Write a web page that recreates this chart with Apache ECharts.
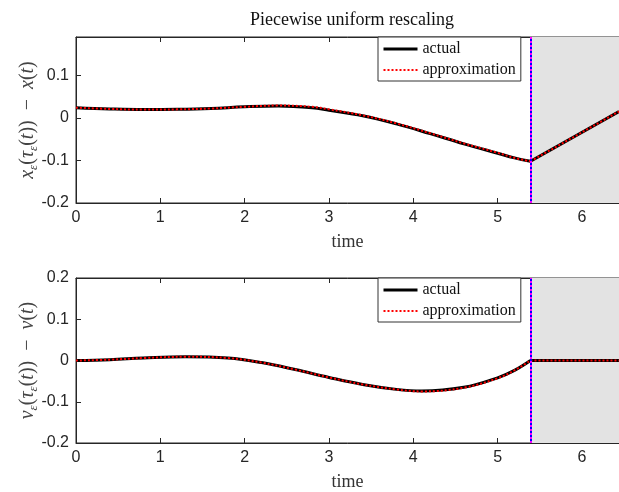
<!DOCTYPE html>
<html><head><meta charset="utf-8">
<script src="https://cdn.jsdelivr.net/npm/echarts@6/dist/echarts.min.js"></script>
<style>html,body{margin:0;padding:0;background:#fff}#c{width:619px;height:492px}</style>
</head><body><div id="c"></div>
<script>
// ---- data ----
const titleText = 'Piecewise uniform rescaling';
const xTicks = [0, 1, 2, 3, 4, 5, 6];
const tSwitch = 5.39;
const tEnd = 6.44;
// top panel: x_eps(tau_eps(t)) - x(t)
const tTop = [0, 0.4, 0.8, 1.2, 1.6, 2.0, 2.4, 2.8, 3.0, 3.4, 3.8, 4.2, 4.6, 5.0, 5.2, 5.39];
const xActual = [0.024, 0.021, 0.0195, 0.020, 0.022, 0.026, 0.028, 0.024, 0.018, 0.005, -0.014, -0.037, -0.061, -0.083, -0.094, -0.102];
const xApprox = [0.024, 0.021, 0.0195, 0.020, 0.022, 0.026, 0.029, 0.026, 0.020, 0.006, -0.013, -0.036, -0.060, -0.082, -0.094, -0.102];
const tTopPost = [5.39, 6.44];
const xActualPost = [-0.102, 0.015];
const xApproxPost = [-0.102, 0.015];
// bottom panel: v_eps(tau_eps(t)) - v(t)
const tBot = [0, 0.4, 0.8, 1.3, 1.8, 2.2, 2.6, 3.0, 3.4, 3.8, 4.1, 4.6, 5.0, 5.2, 5.39];
const vActual = [0, 0.002, 0.006, 0.009, 0.006, -0.005, -0.022, -0.041, -0.058, -0.070, -0.074, -0.065, -0.042, -0.024, 0];
const vApprox = [0, 0.002, 0.006, 0.009, 0.006, -0.005, -0.022, -0.041, -0.058, -0.070, -0.075, -0.066, -0.043, -0.024, 0];
const tBotPost = [5.39, 6.44];
const vActualPost = [0, 0];
const vApproxPost = [0, 0];
const legendNames = ['actual', 'approximation'];

// ---- chart ----
const zip = (a, b) => a.map((v, i) => [v, b[i]]);
const axisColor = '#262626';
const serif = 'Liberation Serif';
const sans = 'Liberation Sans';

function xAx(gi, showLabels) {
  return {
    type: 'value', gridIndex: gi, min: 0, max: tEnd, interval: 1,
    position: showLabels ? 'bottom' : 'top',
    name: showLabels ? 'time' : '', nameLocation: 'middle', nameGap: 30,
    nameTextStyle: { fontFamily: serif, fontSize: 18, color: '#333' },
    axisLine: { show: true, onZero: false, lineStyle: { color: axisColor } },
    axisTick: { show: true, inside: true, length: 5, lineStyle: { color: axisColor } },
    axisLabel: { show: showLabels, showMaxLabel: false, fontFamily: sans, fontSize: 16, color: axisColor, margin: 7 },
    splitLine: { show: false }
  };
}
function yAx(gi, min, max, nameStr) {
  return {
    type: 'value', gridIndex: gi, min: min, max: max, interval: 0.1,
    name: nameStr, nameLocation: 'middle', nameGap: 36, nameMoveOverlap: false,
    nameTextStyle: {
      color: '#444', fontFamily: serif, fontSize: 20,
      rich: {
        i: { fontFamily: serif, fontStyle: 'italic', fontSize: 20, color: '#444', lineHeight: 24, verticalAlign: 'middle' },
        n: { fontFamily: serif, fontSize: 20, color: '#444', lineHeight: 24, verticalAlign: 'middle' },
        s: { fontFamily: serif, fontStyle: 'italic', fontSize: 13, color: '#444', lineHeight: 24, verticalAlign: 'bottom' }
      }
    },
    axisLine: { show: true, onZero: false, lineStyle: { color: axisColor } },
    axisTick: { show: true, inside: true, length: 5, lineStyle: { color: axisColor } },
    axisLabel: { showMaxLabel: max > 0.195, fontFamily: sans, fontSize: 16, color: axisColor, margin: 7,
      formatter: v => (Math.abs(v) < 1e-9 ? '0' : String(Math.round(v * 10) / 10)) },
    splitLine: { show: false }
  };
}
const xName = '{i|x}{s|ε}{n|(}{i|τ}{s|ε}{n|(}{i|t}{n|))  −  }{i|x}{n|(}{i|t}{n|)}';
const vName = '{i|v}{s|ε}{n|(}{i|τ}{s|ε}{n|(}{i|t}{n|))  −  }{i|v}{n|(}{i|t}{n|)}';

function panelSeries(xi, yi, tPre, aPre, pPre, tPost, aPost, pPost) {
  const act = { type: 'line', smooth: 0.4, showSymbol: false, symbol: 'none', color: '#000', lineStyle: { color: '#000', width: 3 } };
  const app = { type: 'line', smooth: 0.4, showSymbol: false, symbol: 'none', color: '#ff0000', lineStyle: { color: '#ff0000', width: 2, type: [2, 2] } };
  return [
    Object.assign({}, act, { name: 'actual', xAxisIndex: xi, yAxisIndex: yi, z: 3, data: zip(tPre, aPre),
      markArea: { silent: true, itemStyle: { color: '#e3e3e3' }, data: [[{ xAxis: tSwitch }, { xAxis: tEnd }]] },
      markLine: { silent: true, symbol: 'none', label: { show: false }, lineStyle: { color: '#0000ff', width: 2, type: 'solid' }, data: [{ xAxis: tSwitch }] } }),
    Object.assign({}, act, { name: 'actual', xAxisIndex: xi, yAxisIndex: yi, z: 3, smooth: false, data: zip(tPost, aPost) }),
    Object.assign({}, app, { name: 'approximation', xAxisIndex: xi, yAxisIndex: yi, z: 4, data: zip(tPre, pPre),
      markLine: { silent: true, symbol: 'none', label: { show: false }, lineStyle: { color: '#ff00ff', width: 2, type: [2, 2] }, data: [{ xAxis: tSwitch }] } }),
    Object.assign({}, app, { name: 'approximation', xAxisIndex: xi, yAxisIndex: yi, z: 4, smooth: false, data: zip(tPost, pPost) })
  ];
}

function legendAt(id, top) {
  return {
    id: id, show: true,
    data: [
      { name: legendNames[0], lineStyle: { width: 3, color: '#000' } },
      { name: legendNames[1], lineStyle: { width: 2, color: '#ff0000', type: [2, 2] } }
    ],
    orient: 'vertical', left: 378, top: top,
    itemWidth: 34, itemHeight: 12, itemGap: 5,
    padding: [4, 5, 3, 4],
    itemStyle: { opacity: 0 },
    backgroundColor: '#fff', borderColor: '#333', borderWidth: 1,
    textStyle: { fontFamily: serif, fontSize: 16, color: '#111' },
    selectedMode: false, z: 10
  };
}

const chart = echarts.init(document.getElementById('c'), null, { renderer: 'canvas' });
chart.setOption({
  animation: false,
  backgroundColor: '#fff',
  title: { text: titleText, left: 347, top: 6, textAlign: 'center',
    textStyle: { fontFamily: serif, fontSize: 18, fontWeight: 'normal', color: '#111' } },
  legend: [legendAt('lg0', 37), legendAt('lg1', 278)],
  grid: [
    { left: 76, top: 37, width: 543, height: 166, show: true, borderColor: axisColor, borderWidth: 1, backgroundColor: 'transparent' },
    { left: 76, top: 278, width: 543, height: 168, show: true, borderColor: axisColor, borderWidth: 1, backgroundColor: 'transparent' }
  ],
  xAxis: [xAx(0, true), xAx(1, true), xAx(0, false), xAx(1, false)],
  yAxis: [yAx(0, -0.2, 0.19, xName), yAx(1, -0.2, 0.2, vName)],
  series: [].concat(
    panelSeries(0, 0, tTop, xActual, xApprox, tTopPost, xActualPost, xApproxPost),
    panelSeries(1, 1, tBot, vActual, vApprox, tBotPost, vActualPost, vApproxPost)
  )
});
</script></body></html>
